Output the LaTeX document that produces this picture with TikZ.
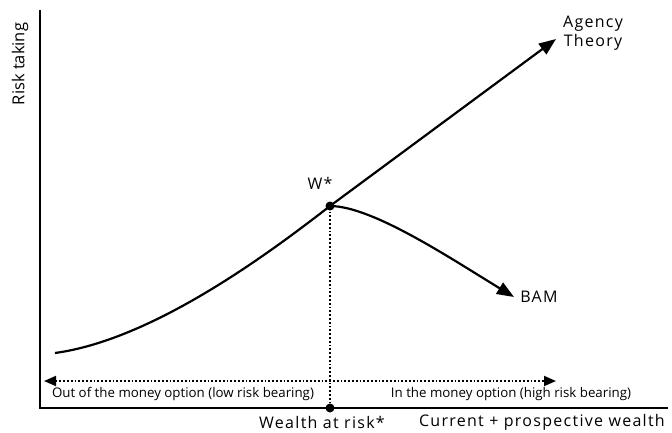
\documentclass[tikz,border=0pt]{standalone}
\usepackage{fontspec}
\setmainfont{Open Sans}
\newfontfamily\spacedfont[LetterSpace=8]{Open Sans}
\usetikzlibrary{arrows.meta}
\tikzset{
  dot/.style = {circle, fill=black, inner sep=0pt, minimum size=9pt},
  lbl/.style = {font=\spacedfont\fontsize{16}{19}\selectfont, inner sep=1pt},
  small/.style = {font=\fontsize{13.3}{15}\selectfont, inner sep=1pt},
  tip/.style = {-{Triangle[length=17pt, width=13pt]}},
}
\begin{document}
\begin{tikzpicture}[x=1pt, y=-1pt, line width=2.2pt]
    \useasboundingbox (0,0) rectangle (672,432);
    % axes
    \coordinate (O) at (40,408);
    \coordinate (ytop) at (40,10);
    \coordinate (xend) at (668,408);
    \draw[line width=1.8pt] (ytop) -- (O) -- (xend);
    \node[font=\fontsize{16.5}{19}\selectfont, rotate=90] (risk) at (20,64) {Risk taking};
    \node[lbl, anchor=west] (cur) at (417,422) {Current + prospective wealth};
    % points
    \node[dot] (W) at (330,206) {};
    \node[dot] (war) at (330,408) {};
    \node[lbl] (Wlab) at (320,183) {W*};
    \node[lbl] (warlab) at (322,422) {Wealth at risk*};
    % curves
    \coordinate (start) at (55,353);
    \coordinate (agency) at (556,39);
    \coordinate (bam) at (514,297);
    \draw[tip] (start) .. controls (150,340) and (262,259) .. (W.center) -- (agency);
    \draw[tip] (W.center) .. controls (372,206) and (450,258) .. (bam);
    \node[lbl, align=center] (agt) at (593,33) {Agency\\Theory};
    \node[lbl] (bamlab) at (539,297) {BAM};
    % dotted lines
    \coordinate (lft) at (44,381);
    \coordinate (rgt) at (556,381);
    \draw[dotted, line width=1.8pt] (W) -- (war);
    \draw[dotted, line width=1.8pt, {Triangle[length=12pt, width=10pt]}-{Triangle[length=12pt, width=10pt]}] (lft) -- (rgt);
    \node[small] (out) at (183,394) {Out of the money option (low risk bearing)};
    \node[small] (in) at (511,394) {In the money option (high risk bearing)};
\end{tikzpicture}
\end{document}
